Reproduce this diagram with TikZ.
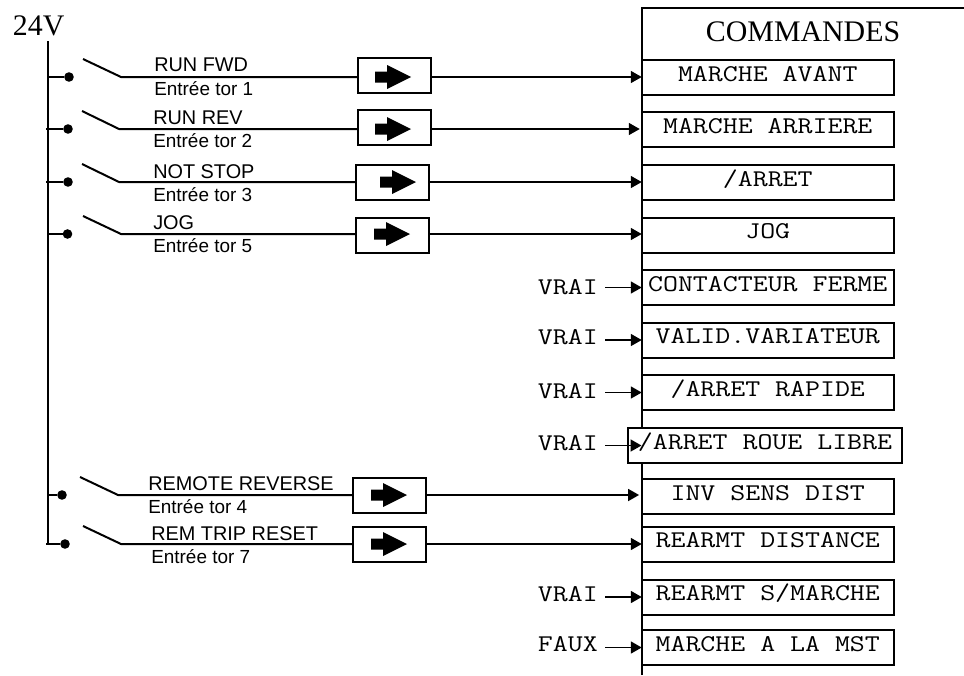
\documentclass[tikz,border=0pt]{standalone}
\usepackage{fontspec}
\setmainfont{Liberation Serif}
\newfontfamily\arialf{Liberation Sans}
\setmonofont{Latin Modern Mono}[FakeStretch=1.21]
\usetikzlibrary{arrows.meta}
\tikzset{
  x=0.75pt,y=-0.75pt,
  wire/.style={line width=1.5pt,line cap=butt},
  conn/.style={line width=1.3pt,-{Triangle[length=8.25pt,width=9pt]}},
  inbox/.style={draw,line width=1.5pt,inner sep=0,outer sep=0,fill=white,minimum width=55pt,minimum height=26.25pt},
  cmdbox/.style={draw,line width=1.5pt,inner sep=0,outer sep=0,fill=white,minimum width=189pt,minimum height=26.25pt,
     font=\fontsize{18}{18}\selectfont\ttfamily,text height=5.25pt,text depth=0pt},
  sig/.style={anchor=base west,inner sep=0,font=\fontsize{14.2}{14.2}\selectfont\arialf},
  sigtop/.style={anchor=base west,inner sep=0,font=\fontsize{14.9}{14.9}\selectfont\arialf},
  title/.style={anchor=base west,inner sep=0,font=\fontsize{22.4}{22.4}\selectfont},
  const/.style={anchor=base east,inner sep=0,font=\fontsize{18}{18}\selectfont\ttfamily},
  contact/.style={circle,fill=black,inner sep=0,minimum size=7.2pt,outer sep=0},
  bigarrow/.pic={\fill (0,-5.5) -- (12,-5.5) -- (12,-12) -- (36,0) -- (12,12) -- (12,5.5) -- (0,5.5) -- cycle;}
}
\begin{document}
\begin{tikzpicture}
\useasboundingbox (0,0) rectangle (964,675);
% titles
\node[title] (t24) at (12.7,35) {24V};
\node[title] (tcmd) at (705.7,41.5) {COMMANDES};
% rail and bus
\coordinate (railtop) at (641.5,8);
\coordinate (railbot) at (641.5,675);
\coordinate (railend) at (964,8);
\draw[wire] (railbot) -- (railtop) -- (railend);
\coordinate (bustop) at (48,41);
\coordinate (busbot) at (48,545);
\draw[wire] (bustop) -- (busbot);
% command boxes
\node[cmdbox] (c1) at (767.75,77.5) {MARCHE AVANT};
\node[cmdbox] (c2) at (767.75,129.5) {MARCHE ARRIERE};
\node[cmdbox] (c3) at (767.75,182.5) {/ARRET};
\node[cmdbox] (c4) at (767.75,235) {JOG};
\node[cmdbox] (c5) at (767.75,287.5) {CONTACTEUR FERME};
\node[cmdbox] (c6) at (767.75,340) {VALID.VARIATEUR};
\node[cmdbox] (c7) at (767.75,392.5) {/ARRET RAPIDE};
\node[cmdbox,minimum width=205.5pt] (c8) at (765,445.5) {/ARRET ROUE LIBRE};
\node[cmdbox] (c9) at (767.75,496.5) {INV SENS DIST};
\node[cmdbox] (c10) at (767.75,544) {REARMT DISTANCE};
\node[cmdbox] (c11) at (767.75,597) {REARMT S/MARCHE};
\node[cmdbox] (c12) at (767.75,647.5) {MARCHE A LA MST};
% input rows
\foreach \n/\ya/\xb/\yb/\xc/\xd/\xe/\xf/\xg/\la/\lb/\xl/\ba/\bb in {
  1/48/69/77/83/121/394.25/375/75.5/{RUN FWD}/{Entrée tor 1}/154/71.7/95,
  2/46/68/129/82/119/394.25/375/127/{RUN REV}/{Entrée tor 2}/153/124/147,
  3/46/68/182/82/119/392.5/380/182/{NOT STOP}/{Entrée tor 3}/153/178/201,
  4/48/67.5/234/83/121/392.5/374/235/{JOG}/{Entrée tor 5}/153/229/252,
  5/48/62/495/80/118/389.5/371/495.5/{REMOTE REVERSE}/{Entrée tor 4}/148/490/513,
  6/46/65/544/83/121/389.5/371/544/{REM TRIP RESET}/{Entrée tor 7}/151/540/563} {
  \coordinate (s\n) at (\ya,\yb);
  \node[contact] (d\n) at (\xb,\yb) {};
  \coordinate (bl\n) at (\xc,\yb-18);
  \coordinate (bp\n) at (\xd,\yb);
  \node[inbox] (b\n) at (\xe,\xg) {};
  \pic at (\xf,\yb) {bigarrow};
  \draw[wire] (s\n) -- (d\n);
  \draw[wire] (bl\n) -- (bp\n) -- (bp\n -| b\n.west);
  \node[sigtop] (la\n) at (\xl,\ba) {\la};
  \node[sig] (lb\n) at (\xl,\bb) {\lb};
}
% connectors from input boxes to commands
\draw[conn] (b1.east |- bp1) -- (c1.west |- bp1);
\draw[conn,shorten >=1.5pt] (b2.east |- bp2) -- (c2.west |- bp2);
\draw[conn] (b3.east |- bp3) -- (c3.west |- bp3);
\draw[conn] (b4.east |- bp4) -- (c4.west |- bp4);
\draw[conn,shorten >=2pt] (b5.east |- bp5) -- (c9.west |- bp5);
\draw[conn] (b6.east |- bp6) -- (c10.west |- bp6);
% constants
\node[const] (v5) at (598,294) {VRAI};
\node[const] (v6) at (598,344) {VRAI};
\node[const] (v7) at (598,398) {VRAI};
\node[const] (v8) at (598,450) {VRAI};
\node[const] (v11) at (598,601) {VRAI};
\node[const] (v12) at (598,651) {FAUX};
\draw[conn,shorten <=5.25pt] (v5.east |- c5.west) -- (c5.west);
\draw[conn,shorten <=5.25pt] (v6.east |- c6.west) -- (c6.west);
\draw[conn,shorten <=5.25pt] (v7.east |- c7.west) -- (c7.west);
\draw[conn,shorten <=5.25pt] (v8.east |- c8.west) -- (c8.west -| railtop);
\draw[conn,shorten <=5.25pt] (v11.east |- c11.west) -- (c11.west);
\draw[conn,shorten <=5.25pt] (v12.east |- c12.west) -- (c12.west);
\end{tikzpicture}
\end{document}
